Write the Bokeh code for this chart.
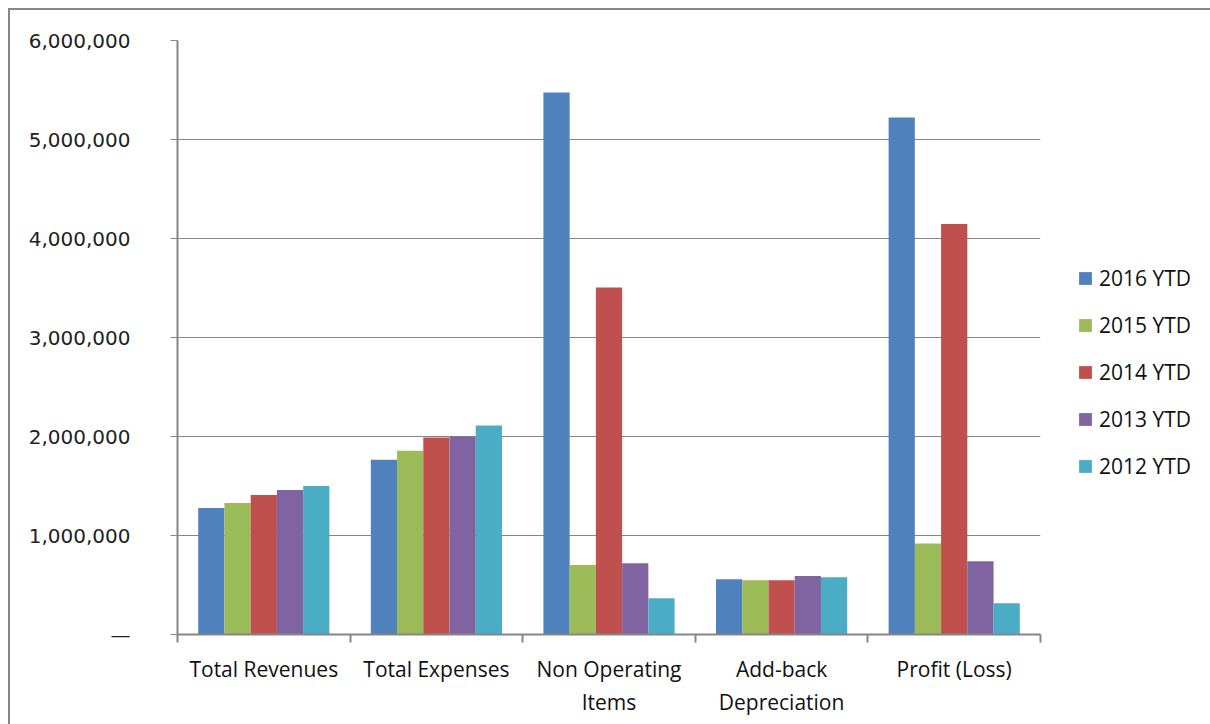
import numpy as np
from bokeh.plotting import figure
from bokeh.models import FixedTicker, Legend, LegendItem, ColumnDataSource, Range1d
from bokeh.embed import file_html
from bokeh.resources import INLINE

categories = ["Total Revenues", "Total Expenses", "Non Operating\nItems",
              "Add-back\nDepreciation", "Profit (Loss)"]
series_names = ["2016 YTD", "2015 YTD", "2014 YTD", "2013 YTD", "2012 YTD"]
v2016 = [1278000, 1765000, 5475000, 557000, 5223000]
v2015 = [1328000, 1855000, 702000, 549000, 919000]
v2014 = [1409000, 1990000, 3505000, 549000, 4147000]
v2013 = [1460000, 1997000, 720000, 590000, 740000]
v2012 = [1500000, 2110000, 365000, 579000, 315000]
series_values = [v2016, v2015, v2014, v2013, v2012]
colors = ["#4F81BD", "#9BBB59", "#C0504D", "#8064A2", "#4BACC6"]
y_ticks = [0, 1000000, 2000000, 3000000, 4000000, 5000000, 6000000]
y_tick_labels = ["\u2014", "1,000,000", "2,000,000", "3,000,000", "4,000,000",
                 "5,000,000", "6,000,000"]

n = len(categories)
group_frac = 0.76
bw = group_frac / len(series_names)

p = figure(frame_width=863, frame_height=594, min_border_left=167, min_border_right=168,
           min_border_top=30, min_border_bottom=92, output_backend="svg",
           toolbar_location=None, x_range=Range1d(0, n), y_range=Range1d(0, 6000000))
p.styles = {"border": "2px solid #868686", "margin-left": "8px", "margin-top": "8px"}
p.outline_line_color = None
p.background_fill_color = "white"

items = []
centers = np.arange(n) + 0.5
for j, (name, vals, col) in enumerate(zip(series_names, series_values, colors)):
    src = ColumnDataSource(dict(x=centers + (j - 2) * bw, top=vals))
    r = p.vbar(x="x", top="top", width=bw, source=src, fill_color=col, line_color=None)
    items.append(LegendItem(label=name, renderers=[r]))

# y axis
p.yaxis.ticker = FixedTicker(ticks=y_ticks)
p.yaxis.major_label_overrides = {t: l for t, l in zip(y_ticks, y_tick_labels)}
p.yaxis.axis_line_color = "#868686"
p.yaxis.axis_line_width = 2
p.yaxis.major_tick_line_color = "#868686"
p.yaxis.major_tick_in = 0
p.yaxis.major_tick_out = 7
p.yaxis.minor_tick_line_color = None
p.yaxis.major_label_standoff = 40
p.yaxis.major_label_text_font = "DejaVu Sans"
p.yaxis.major_label_text_font_size = "20px"
p.yaxis.major_label_text_color = "#222222"
p.ygrid.grid_line_color = "#868686"
p.ygrid.grid_line_width = 1
p.ygrid.ticker = FixedTicker(ticks=y_ticks)
p.xgrid.grid_line_color = None

# x axis
p.xaxis.ticker = FixedTicker(ticks=list(centers), minor_ticks=list(range(n + 1)))
p.xaxis.major_label_overrides = {float(c): lab for c, lab in zip(centers, categories)}
p.xaxis.axis_line_color = "#868686"
p.xaxis.axis_line_width = 2
p.xaxis.major_tick_line_color = None
p.xaxis.major_tick_in = 0
p.xaxis.major_tick_out = 0
p.xaxis.minor_tick_line_color = "#868686"
p.xaxis.minor_tick_line_width = 2
p.xaxis.minor_tick_in = 0
p.xaxis.minor_tick_out = 8
p.xaxis.major_label_standoff = 12
p.xaxis.major_label_text_font = "Open Sans"
p.xaxis.major_label_text_font_size = "21px"
p.xaxis.major_label_text_color = "#111111"

legend = Legend(items=items, location=(37, 154), orientation="vertical",
                glyph_width=16, glyph_height=16, label_height=20, spacing=19,
                padding=0, margin=0, border_line_color=None,
                background_fill_alpha=0, label_text_font="Open Sans",
                label_text_font_size="21px", label_standoff=6, label_text_color="#111111")
p.add_layout(legend, "right")

open("out.html", "w").write(file_html(p, INLINE))
